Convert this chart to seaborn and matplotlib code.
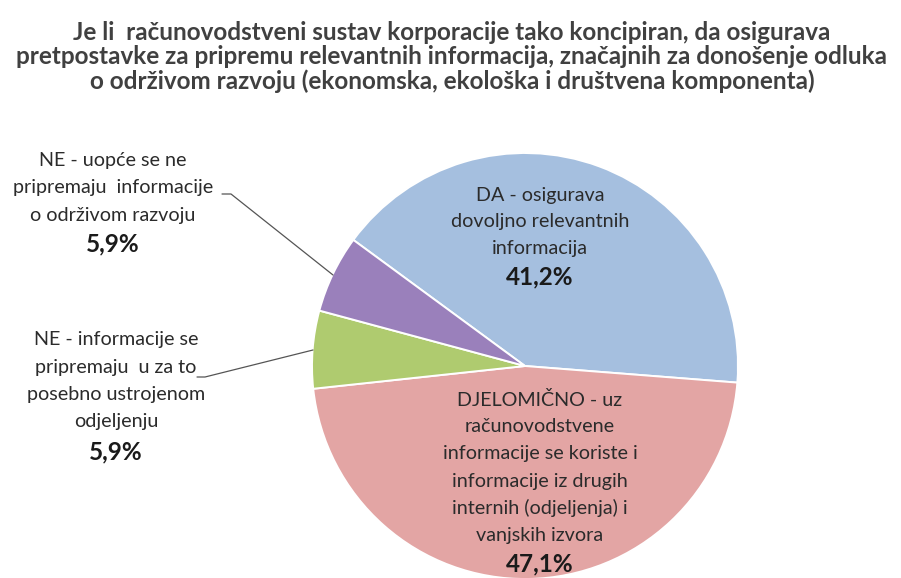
import matplotlib
matplotlib.use("Agg")
import matplotlib.pyplot as plt
import seaborn as sns

# Survey answers, share of respondents (%)
categories = [
    "DA - osigurava\ndovoljno relevantnih\ninformacija",
    "DJELOMIČNO - uz\nračunovodstvene\ninformacije se koriste i\ninformacije iz drugih\ninternih (odjeljenja) i\nvanjskih izvora",
    "NE - informacije se\npripremaju  u za to\nposebno ustrojenom\nodjeljenju",
    "NE - uopće se ne\npripremaju  informacije\no održivom razvoju",
]
shares = [41.2, 47.1, 5.9, 5.9]
pct_labels = ["41,2%", "47,1%", "5,9%", "5,9%"]
colors = ["#a5bfdf", "#e3a5a4", "#afcb6f", "#9a80bb"]

title = ("Je li  računovodstveni sustav korporacije tako koncipiran, da osigurava\n"
         "pretpostavke za pripremu relevantnih informacija, značajnih za donošenje odluka\n"
         "o održivom razvoju (ekonomska, ekološka i društvena komponenta)")

sns.set_theme(style="white")
plt.rcParams["font.family"] = ["Lato", "DejaVu Sans"]

W, H = 901, 578
fig = plt.figure(figsize=(W / 100, H / 100), dpi=100)
fig.patch.set_facecolor("white")

# pie centre and radius in pixels
cx, cy, r = 525, 366, 213
ax = fig.add_axes([(cx - r) / W, (H - cy - r) / H, 2 * r / W, 2 * r / H])
ax.pie(shares, colors=colors, startangle=143.7, counterclock=False,
       radius=1.0, wedgeprops=dict(edgecolor="white", linewidth=1.4))
ax.set_xlim(-1, 1)
ax.set_ylim(-1, 1)
ax.set_aspect("equal")
ax.axis("off")


def to_data(px, py):
    return (px - cx) / r, (cy - py) / r


def block(lines, pct, x, y0, step, pct_y, size=14.2, pct_size=17.5):
    for i, line in enumerate(lines):
        xx, yy = to_data(x, y0 + i * step)
        ax.text(xx, yy, line, ha="center", va="center", fontsize=size,
                color="#2b2b2b", clip_on=False)
    xx, yy = to_data(x, pct_y)
    ax.text(xx, yy, pct, ha="center", va="center", fontsize=pct_size,
            fontweight="bold", color="#1a1a1a", clip_on=False)


block(categories[0].split("\n"), pct_labels[0], 540, 195, 26.7, 277)
block(categories[1].split("\n"), pct_labels[1], 540, 400, 27.0, 564)
block(categories[2].split("\n"), pct_labels[2], 116, 340, 27.3, 452)
block(categories[3].split("\n"), pct_labels[3], 113, 160, 27.5, 244)

# leader lines for the two small slices
for pts in ([(222, 194), (231, 194), (333, 275)],
            [(197, 377), (205, 377), (313, 350)]):
    xs, ys = zip(*[to_data(*p) for p in pts])
    ax.plot(xs, ys, color="#555555", linewidth=0.9, clip_on=False)

fig.text(452 / W, 1 - 57 / H, title, ha="center", va="center",
         fontsize=17.5, fontweight="bold", color="#404040",
         linespacing=1.08)

fig.savefig("out.png", dpi=100, facecolor="white")
